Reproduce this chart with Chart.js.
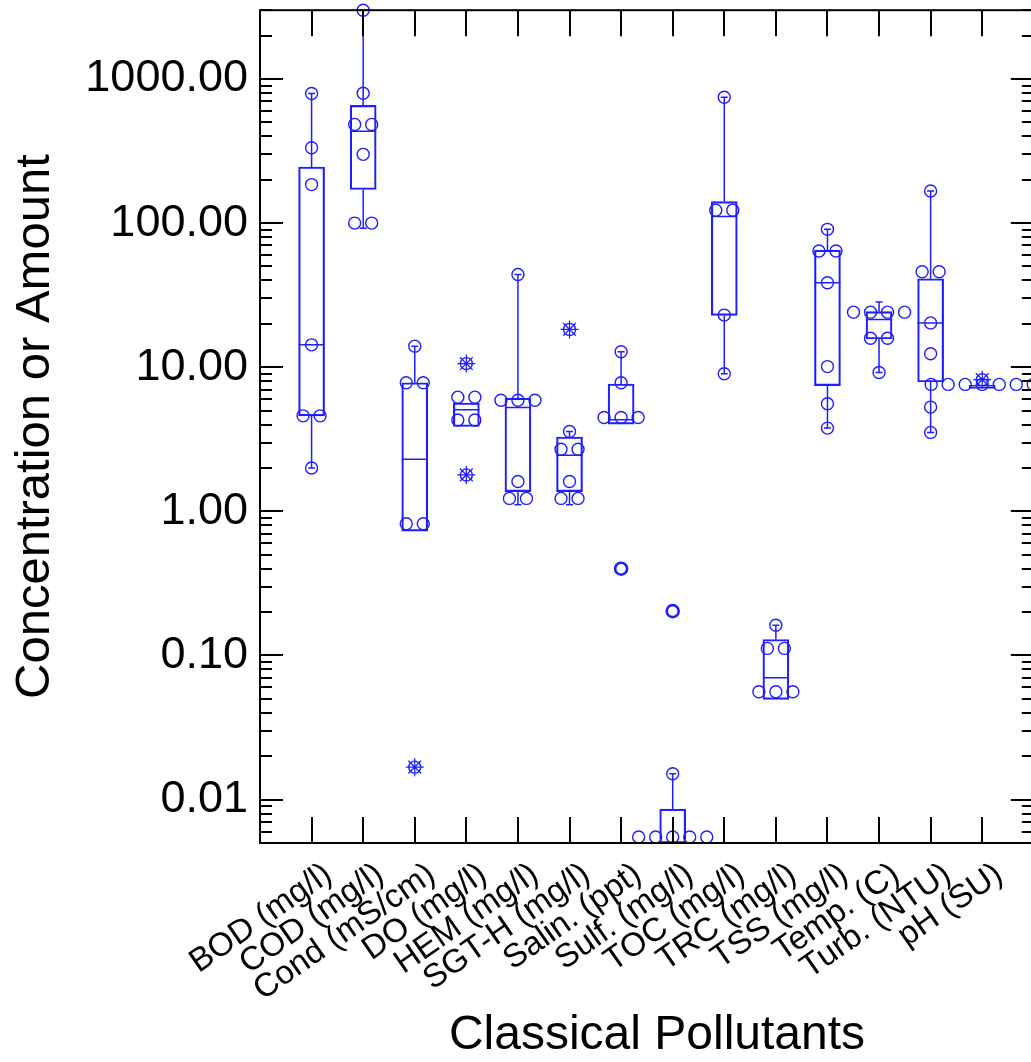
<!DOCTYPE html>
<html>
<head>
<meta charset="utf-8">
<script src="https://cdn.jsdelivr.net/npm/chart.js@4.4.1/dist/chart.umd.min.js"></script>
<style>
  html, body { margin: 0; padding: 0; background: #fff; overflow: hidden; }
  #wrap { width: 1044px; height: 1062px; position: relative; }
</style>
</head>
<body>
<div id="wrap"><canvas id="myChart"></canvas></div>
<script>
const categories = [
  "BOD (mg/l)", "COD (mg/l)", "Cond (mS/cm)", "DO (mg/l)", "HEM (mg/l)",
  "SGT-H (mg/l)", "Salin. (ppt)", "Sulf. (mg/l)", "TOC (mg/l)", "TRC (mg/l)",
  "TSS (mg/l)", "Temp. (C)", "Turb. (NTU)", "pH (SU)",
];

// individual samples (circles)
const sampleValues = [
  [2.0, 4.6, 4.6, 14.3, 185, 333, 793],
  [100, 100, 300, 484, 484, 796, 3000],
  [0.82, 0.82, 7.8, 7.8, 14],
  [4.3, 4.3, 6.2, 6.2],
  [1.23, 1.23, 1.61, 5.9, 5.9, 5.9, 44],
  [1.23, 1.23, 1.61, 2.7, 2.7, 3.58],
  [4.48, 4.48, 4.48, 7.8, 12.8],
  [0.0055, 0.0055, 0.0055, 0.0055, 0.0055, 0.0151],
  [9.0, 23, 123, 123, 746],
  [0.056, 0.056, 0.056, 0.112, 0.112, 0.162],
  [3.78, 5.58, 10.1, 38.6, 64, 64, 90.5],
  [9.2, 15.9, 15.9, 24.1, 24.1, 24.1, 24.1],
  [3.53, 5.29, 12.4, 20.3, 46, 46, 167],
  [7.6, 7.6, 7.6, 7.6, 7.6, 7.6, 7.6],
];

// outliers (circle with asterisk) and far outliers (bold circle)
const outlierValues = [[], [], [0.0168], [10.6, 1.79], [], [18.3], [], [], [], [], [], [], [], [8.2]];
const farOutlierValues = [[], [], [], [], [], [], [0.40], [0.203], [], [], [], [], [], []];

// box statistics
const boxLow = [4.6, 171, 0.73, 3.88, 1.37, 1.37, 4.03, 0.005, 22.9, 0.0496, 7.45, 15.7, 7.9, 7.2];
const boxMedian = [14.3, 433, 2.3, 5.07, 5.26, 2.45, 4.32, 0.005, 111, 0.07, 38.6, 21.4, 20.3, 7.2];
const boxHigh = [245, 656, 7.8, 5.65, 6.1, 3.28, 7.65, 0.0086, 141, 0.129, 65, 24.3, 41.1, 7.5];
const whiskerLow = [2.0, 92, null, null, 1.11, 1.11, null, null, 9.0, null, 3.78, 9.2, 3.53, null];
const whiskerHigh = [793, 3000, 14, null, 44, 3.58, 12.8, 0.0151, 746, 0.162, 90.5, 28.3, 167, null];

const yTicks = [0.01, 0.1, 1, 10, 100, 1000];

const blue = "rgb(30,30,255)";
const fontName = "'Liberation Sans', Arial, sans-serif";

// spread repeated values side by side
function jitter(lists) {
  const pts = [];
  lists.forEach((vals, i) => {
    const counts = {};
    vals.forEach((v) => (counts[v] = (counts[v] || 0) + 1));
    const seen = {};
    vals.forEach((v) => {
      const n = counts[v];
      const k = seen[v] || 0;
      seen[v] = k + 1;
      pts.push({ x: i + (k - (n - 1) / 2) * 0.33, y: v });
    });
  });
  return pts;
}

const boxWhiskers = {
  id: "boxWhiskers",
  afterDatasetsDraw(chart) {
    const ctx = chart.ctx;
    const xs = chart.scales.x;
    const ys = chart.scales.y;
    ctx.save();
    ctx.strokeStyle = blue;
    ctx.lineWidth = 1.5;
    for (let i = 0; i < categories.length; i++) {
      const x = xs.getPixelForValue(i);
      ctx.beginPath();
      const ym = ys.getPixelForValue(boxMedian[i]);
      ctx.moveTo(x - 13, ym);
      ctx.lineTo(x + 13, ym);
      if (whiskerHigh[i] != null) {
        const y1 = ys.getPixelForValue(boxHigh[i]);
        const y2 = ys.getPixelForValue(whiskerHigh[i]);
        ctx.moveTo(x, y1);
        ctx.lineTo(x, y2);
        ctx.moveTo(x - 3.5, y2);
        ctx.lineTo(x + 3.5, y2);
      }
      if (whiskerLow[i] != null) {
        const y1 = ys.getPixelForValue(boxLow[i]);
        const y2 = ys.getPixelForValue(whiskerLow[i]);
        ctx.moveTo(x, y1);
        ctx.lineTo(x, y2);
        ctx.moveTo(x - 3.5, y2);
        ctx.lineTo(x + 3.5, y2);
      }
      ctx.stroke();
    }
    ctx.restore();
  },
};

const frameTicks = {
  id: "frameTicks",
  afterDraw(chart) {
    const ctx = chart.ctx;
    const a = chart.chartArea;
    const xs = chart.scales.x;
    const ys = chart.scales.y;
    ctx.save();
    ctx.strokeStyle = "#000";
    ctx.lineWidth = 2;
    ctx.strokeRect(a.left, a.top, a.right - a.left, a.bottom - a.top);
    ctx.beginPath();
    for (let i = 0; i < categories.length; i++) {
      const x = Math.round(xs.getPixelForValue(i));
      ctx.moveTo(x, a.bottom);
      ctx.lineTo(x, a.bottom - 26);
      ctx.moveTo(x, a.top);
      ctx.lineTo(x, a.top + 26);
    }
    for (let d = -3; d <= 3; d++) {
      for (let k = 1; k <= 9; k++) {
        const v = k * Math.pow(10, d);
        if (v < ys.min * 0.999 || v > ys.max * 1.001) continue;
        const y = Math.round(ys.getPixelForValue(v));
        const len = k === 1 ? 23 : 12;
        ctx.moveTo(a.left, y);
        ctx.lineTo(a.left + len, y);
        ctx.moveTo(a.right, y);
        ctx.lineTo(a.right - len, y);
      }
    }
    ctx.stroke();

    ctx.fillStyle = "#000";
    ctx.textAlign = "center";
    ctx.textBaseline = "middle";
    ctx.font = "48px " + fontName;
    ctx.fillText("Classical Pollutants", 657, 1036);
    ctx.font = "49px " + fontName;
    ctx.translate(35, (a.top + a.bottom) / 2);
    ctx.rotate(-Math.PI / 2);
    ctx.fillText("Concentration or Amount", 0, 0);
    ctx.restore();
  },
};

const ctx = document.getElementById("myChart").getContext("2d");
const myChart = new Chart(ctx, {
  type: "bar",
  data: {
    datasets: [
      {
        type: "bar",
        data: categories.map((c, i) => ({ x: i, y: [boxLow[i], boxHigh[i]] })),
        backgroundColor: "rgba(0,0,0,0)",
        borderColor: blue,
        borderWidth: 1.5,
        borderSkipped: false,
        barThickness: 26,
      },
      {
        type: "scatter",
        data: jitter(sampleValues),
        pointStyle: "circle",
        pointRadius: 6,
        borderWidth: 1.4,
        borderColor: blue,
        backgroundColor: "rgba(0,0,0,0)",
        clip: false,
      },
      {
        type: "scatter",
        data: jitter(outlierValues),
        pointStyle: "circle",
        pointRadius: 6,
        borderWidth: 1.4,
        borderColor: blue,
        backgroundColor: "rgba(0,0,0,0)",
      },
      {
        type: "scatter",
        data: jitter(outlierValues),
        pointStyle: "star",
        pointRadius: 9,
        borderWidth: 1.2,
        borderColor: blue,
      },
      {
        type: "scatter",
        data: jitter(farOutlierValues),
        pointStyle: "circle",
        pointRadius: 6,
        borderWidth: 2.6,
        borderColor: blue,
        backgroundColor: "rgba(0,0,0,0)",
      },
    ],
  },
  options: {
    responsive: true,
    maintainAspectRatio: false,
    devicePixelRatio: 1,
    animation: false,
    layout: { padding: { top: 10, right: 2, left: 0, bottom: 0 } },
    plugins: { legend: { display: false }, tooltip: { enabled: false } },
    scales: {
      x: {
        type: "linear",
        offset: false,
        min: -1,
        max: 14,
        grid: { display: false, drawTicks: false, offset: false },
        border: { display: false },
        afterBuildTicks: (scale) => {
          scale.ticks = categories.map((c, i) => ({ value: i }));
        },
        afterFit: (scale) => {
          scale.height = 219;
          scale.paddingLeft = 0;
          scale.paddingRight = 0;
        },
        ticks: {
          autoSkip: false,
          minRotation: 35,
          maxRotation: 35,
          padding: 12,
          labelOffset: 17,
          color: "#000",
          font: { family: fontName, size: 33 },
          callback: (v) => categories[v],
        },
      },
      y: {
        type: "logarithmic",
        min: 0.005,
        max: 3000,
        grid: { display: false, drawTicks: false },
        border: { display: false },
        afterBuildTicks: (scale) => {
          scale.ticks = yTicks.map((v) => ({ value: v }));
        },
        afterFit: (scale) => {
          scale.width = 260;
          scale.paddingTop = 0;
          scale.paddingBottom = 0;
        },
        ticks: {
          autoSkip: false,
          padding: 12,
          color: "#000",
          font: { family: fontName, size: 45 },
          callback: (v) => Number(v).toFixed(2),
        },
      },
    },
  },
  plugins: [boxWhiskers, frameTicks],
});
</script>
</body>
</html>
